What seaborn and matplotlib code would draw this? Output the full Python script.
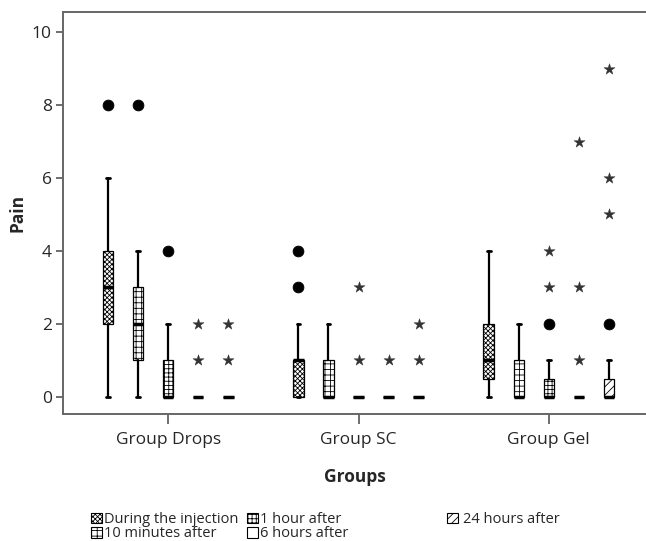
import numpy as np
import pandas as pd
import seaborn as sns
import matplotlib.pyplot as plt
from matplotlib.patches import Patch

#   categories
groups = ["Group Drops", "Group SC", "Group Gel"]
times = ["During the injection", "10 minutes after", "1 hour after", "6 hours after", "24 hours after"]

#   box stats, one entry per (group, time), group-major order
q1 = [2, 1, 0, 0, 0,   0, 0, 0, 0, 0,   0.5, 0, 0, 0, 0]
med = [3, 2, 0, 0, 0,   1, 0, 0, 0, 0,   1, 0, 0, 0, 0]
q3 = [4, 3, 1, 0, 0,   1, 1, 0, 0, 0,   2, 1, 0.5, 0, 0.5]
whislo = [0, 0, 0, 0, 0,   0, 0, 0, 0, 0,   0, 0, 0, 0, 0]
whishi = [6, 4, 2, 0, 0,   2, 2, 0, 0, 0,   4, 2, 1, 0, 1]

#   outliers (circle = outlier, star = extreme)
out_group = ["Group Drops"] * 7 + ["Group SC"] * 7 + ["Group Gel"] * 10
out_time = ["During the injection", "10 minutes after", "1 hour after",
            "6 hours after", "6 hours after", "24 hours after", "24 hours after",
            "During the injection", "During the injection", "1 hour after", "1 hour after",
            "6 hours after", "24 hours after", "24 hours after",
            "1 hour after", "1 hour after", "1 hour after",
            "6 hours after", "6 hours after", "6 hours after",
            "24 hours after", "24 hours after", "24 hours after", "24 hours after"]
out_value = [8, 8, 4, 1, 2, 1, 2,
             3, 4, 1, 3, 1, 1, 2,
             2, 3, 4, 1, 3, 7, 2, 5, 6, 9]
out_kind = ["circle", "circle", "circle", "star", "star", "star", "star",
            "circle", "circle", "star", "star", "star", "star", "star",
            "circle", "star", "star", "star", "star", "star", "circle", "star", "star", "star"]

hatches = ["xxxxxxx", "+++", "++++", "", "////"]

sns.set_style("ticks")
plt.rcParams['font.family'] = ['Open Sans', 'DejaVu Sans']
plt.rcParams['hatch.linewidth'] = 0.6

fig = plt.figure(figsize=(6.46, 5.41), dpi=100)
ax = fig.add_axes([63 / 646, 1 - 414 / 541, 1 - 63 / 646, (414 - 12) / 541])

step = 30 / 190
offsets = (np.arange(len(times)) - 2) * step
positions = []
stats = []
k = 0
for gi, g in enumerate(groups):
    for ti, t in enumerate(times):
        positions.append(gi + offsets[ti])
        stats.append(dict(q1=q1[k], med=med[k], q3=q3[k], whislo=whislo[k], whishi=whishi[k],
                          fliers=[], label=f"{g} {t}"))
        k += 1

bp = ax.bxp(stats, positions=positions, widths=0.055, patch_artist=True, showfliers=False,
            capwidths=0.02,
            boxprops=dict(facecolor="white", edgecolor="black", linewidth=0.9),
            medianprops=dict(color="black", linewidth=2.5),
            whiskerprops=dict(color="black", linewidth=1.6),
            capprops=dict(color="black", linewidth=2))
for i, box in enumerate(bp["boxes"]):
    box.set_hatch(hatches[i % len(times)])

#   outliers via seaborn
out_df = pd.DataFrame({"group": out_group, "time": out_time, "value": out_value, "kind": out_kind})
out_df["x"] = [groups.index(g) + offsets[times.index(t)] for g, t in zip(out_df["group"], out_df["time"])]
sns.scatterplot(data=out_df[out_df["kind"] == "circle"], x="x", y="value", ax=ax, marker="o",
                s=60, color="black", edgecolor="black", legend=False, zorder=5)
sns.scatterplot(data=out_df[out_df["kind"] == "star"], x="x", y="value", ax=ax, marker="*",
                s=70, color="#333333", edgecolor="#333333", linewidth=0.3, legend=False, zorder=5)

ax.set_xlim(-105 / 190, 2 + 97 / 190)
ax.set_ylim(-0.47, 10.55)
ax.set_xticks(range(len(groups)))
ax.set_xticklabels(groups, fontsize=12.5)
ax.set_yticks([0, 2, 4, 6, 8, 10])
ax.tick_params(axis="y", labelsize=12.5, length=5, color="#555555", width=1.2, pad=3)
ax.tick_params(axis="x", length=7, color="#555555", width=1.2, pad=6)
ax.set_xlabel("Groups", fontsize=12.5, fontweight="bold", labelpad=14)
ax.set_ylabel("Pain", fontsize=12.5, fontweight="bold", labelpad=4)
for side in ["left", "top", "bottom"]:
    ax.spines[side].set_color("#666666")
    ax.spines[side].set_linewidth(1.4)
ax.spines["right"].set_visible(False)

#   legend, three columns placed separately
handles = [Patch(facecolor="white", edgecolor="black", hatch=h, linewidth=0.8) for h in hatches]
cols = [([0, 1], 91, 0.15), ([2, 3], 247, 0.15), ([4], 447, 0.35)]
for idx, xpix, pad in cols:
    leg = fig.legend([handles[i] for i in idx], [times[i] for i in idx],
                     loc="upper left", bbox_to_anchor=(xpix / 646, 1 - 512 / 541),
                     frameon=False, fontsize=10.5, handlelength=0.75, handleheight=0.75,
                     handletextpad=pad, labelspacing=-0.05, borderaxespad=0, borderpad=0)

fig.savefig("out.png", dpi=100)
